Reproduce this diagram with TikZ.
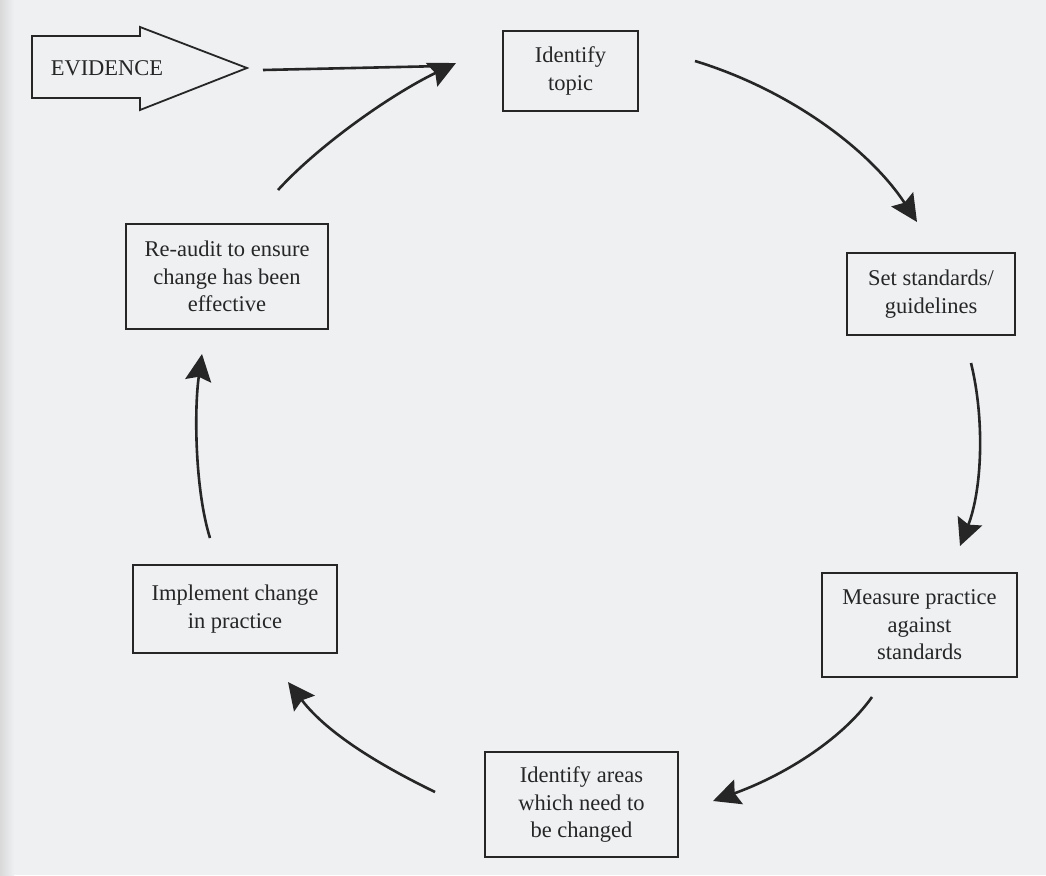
\documentclass[tikz,border=0pt]{standalone}
\usepackage{fontspec}
\setmainfont{Liberation Serif}
\usetikzlibrary{arrows.meta}
\definecolor{ink}{HTML}{262626}
\definecolor{paper}{HTML}{EEF0F2}
\begin{document}
\begin{tikzpicture}[x=1pt,y=-1pt,
  box/.style={draw=ink, line width=1.8pt, align=center, inner sep=0pt,
    font=\fontsize{22.5}{27.5}\selectfont, text=ink},
  flow/.style={draw=ink, line width=2.6pt,
    -{Stealth[length=27pt,width=26pt,inset=4pt,fill=ink]}},
  plainflow/.style={draw=ink, line width=2.6pt}]
\fill[paper] (0,0) rectangle (1046,875);
\useasboundingbox (0,0) rectangle (1046,875);
\shade[left color=gray!30, right color=paper] (0,0) rectangle (14,875);

% EVIDENCE block arrow
\draw[ink, line width=1.8pt, line join=miter]
  (32,36) -- (140,36) -- (140,27) -- (247,68) -- (140,110) -- (140,98) -- (32,98) -- cycle;
\node[text=ink, font=\fontsize{22.5}{27.5}\selectfont] (evidence) at (107,68) {EVIDENCE};

% boxes
\node[box, minimum width=135pt, minimum height=80pt]  (topic)     at (570.5,71)  {Identify\\topic};
\node[box, minimum width=168pt, minimum height=82pt]  (standards) at (931,294)   {Set standards/\\guidelines};
\node[box, minimum width=195pt, minimum height=104pt] (measure)   at (919.5,625) {Measure practice\\against\\standards};
\node[box, minimum width=193pt, minimum height=105pt] (areas)     at (581.5,804.5) {Identify areas\\which need to\\be changed};
\node[box, minimum width=204pt, minimum height=88pt]  (implement) at (235,609)   {Implement change\\in practice};
\node[box, minimum width=202pt, minimum height=105pt] (reaudit)   at (227,276.5) {Re-audit to ensure\\change has been\\effective};

% connector end points
\coordinate (e1s) at (263,70);
\coordinate (e1e) at (444,66);
\coordinate (c2s) at (278,190);
\coordinate (c2e) at (456,63);
\coordinate (c3s) at (695,61);
\coordinate (c3e) at (917,222);
\coordinate (c4s) at (971,363);
\coordinate (c4e) at (960,546);
\coordinate (c5s) at (872,697);
\coordinate (c5e) at (713,801);
\coordinate (c6s) at (435,792);
\coordinate (c6e) at (288,682);
\coordinate (c7s) at (210,538);
\coordinate (c7e) at (202,354);

\draw[plainflow] (e1s) -- (e1e);
\draw[flow] (c2s) .. controls (318,146) and (390,95) .. (c2e);
\draw[flow] (c3s) .. controls (790,90) and (870,150) .. (c3e);
\draw[flow] (c4s) .. controls (985,420) and (982,490) .. (c4e);
\draw[flow] (c5s) .. controls (840,742) and (780,777) .. (c5e);
\draw[flow] (c6s) .. controls (390,770) and (330,737) .. (c6e);
\draw[flow] (c7s) .. controls (195,490) and (194,410) .. (c7e);
\end{tikzpicture}
\end{document}
